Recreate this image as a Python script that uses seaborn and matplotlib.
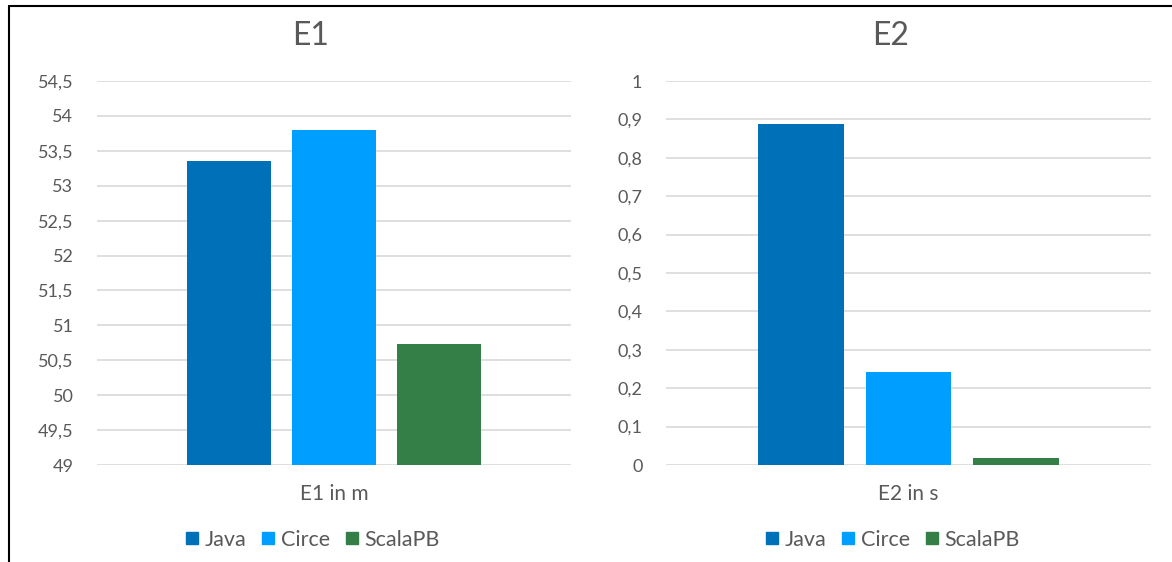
import matplotlib

matplotlib.use("Agg")
import matplotlib.pyplot as plt
import pandas as pd
import seaborn as sns
from matplotlib.lines import Line2D
from matplotlib.ticker import FixedLocator, FuncFormatter

# ---------------------------------------------------------------- data
languages = ["Java", "Circe", "ScalaPB"]
e1_values = [53.35, 53.80, 50.73]
e2_values = [0.888, 0.242, 0.018]
e1_ticks = [49, 49.5, 50, 50.5, 51, 51.5, 52, 52.5, 53, 53.5, 54, 54.5]
e2_ticks = [0, 0.1, 0.2, 0.3, 0.4, 0.5, 0.6, 0.7, 0.8, 0.9, 1]
colors = ["#0071B9", "#009EFF", "#347E47"]

TEXT = "#595959"
GRID = "#D9D9D9"

sns.set_theme(style="white")
plt.rcParams["font.family"] = ["Lato", "DejaVu Sans"]

fig = plt.figure(figsize=(11.72, 5.62), dpi=100)
W, H = 1172, 562


def panel(left, right, center, values, ticks, title, label):
    ax = fig.add_axes([left / W, 1 - 465 / H, (right - left) / W, (465 - 81) / H])
    df = pd.DataFrame({"metric": label, "lang": languages, "value": values})
    sns.barplot(data=df, x="metric", y="value", hue="lang", hue_order=languages,
                palette=colors, saturation=1, width=0.664, gap=0.2, linewidth=0,
                legend=False, ax=ax)
    ax.set_ylim(ticks[0], ticks[-1])
    ax.set_xlim(-0.5, 0.5)
    ax.yaxis.set_major_locator(FixedLocator(ticks))
    ax.yaxis.set_major_formatter(FuncFormatter(lambda v, p: f"{v:g}".replace(".", ",")))
    ax.yaxis.grid(True, color=GRID, lw=1.2)
    ax.set_axisbelow(True)
    for s in ax.spines.values():
        s.set_visible(False)
    ax.tick_params(axis="y", length=0, pad=17, labelsize=13, labelcolor=TEXT)
    ax.tick_params(axis="x", length=0, pad=14, labelsize=15, labelcolor=TEXT)
    ax.set_xlabel("")
    ax.set_ylabel("")
    fig.text(center / W, 1 - 36 / H, title, ha="center", va="center",
             fontsize=23, color=TEXT)
    handles = [Line2D([], [], marker="s", linestyle="", markersize=9,
                      markerfacecolor=c, markeredgecolor=c) for c in colors]
    fig.legend(handles, languages, loc="center",
               bbox_to_anchor=(center / W, 1 - 540 / H),
               ncol=3, frameon=False, fontsize=15.5, labelcolor=TEXT,
               handletextpad=0.15, columnspacing=0.55, handlelength=0.9)
    return ax


panel(97, 571, 311, e1_values, e1_ticks, "E1", "E1 in m")
panel(666, 1151, 891, e2_values, e2_ticks, "E2", "E2 in s")

# outer frame: only top and left edges are visible in the reference
fig.add_artist(Line2D([9 / W, 1], [1 - 6 / H, 1 - 6 / H], color="black", lw=1.5))
fig.add_artist(Line2D([9 / W, 9 / W], [0, 1 - 6 / H], color="black", lw=1.5))

fig.savefig("out.png", dpi=100, facecolor="white")
